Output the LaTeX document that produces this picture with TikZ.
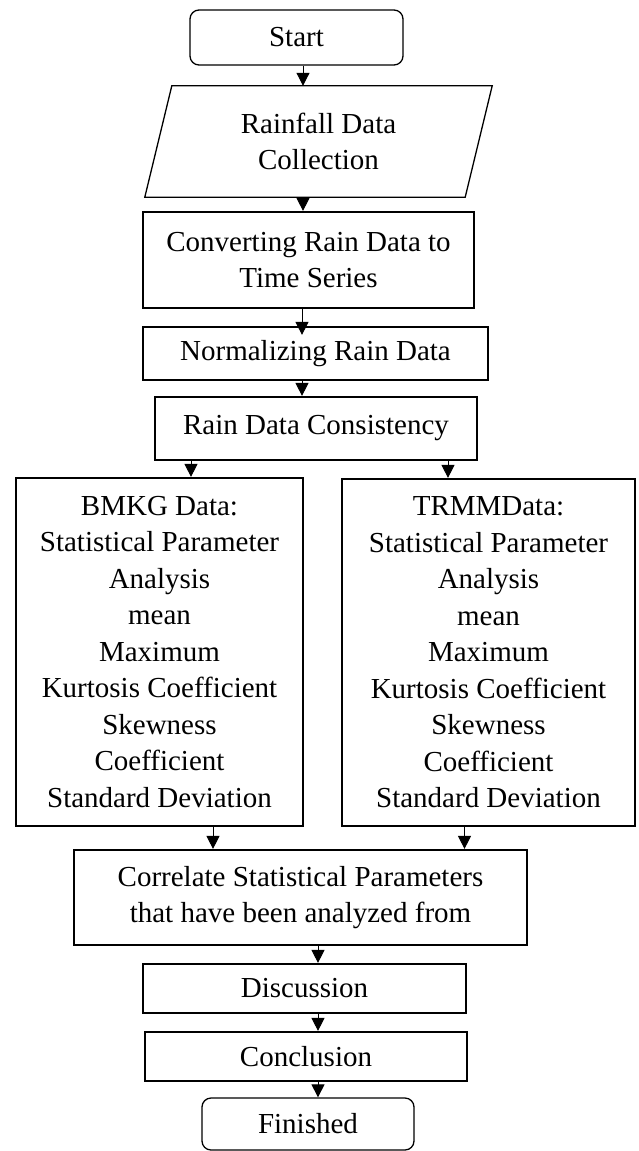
\documentclass[tikz,border=0pt]{standalone}
\usepackage{fontspec}
\setmainfont{Liberation Serif}
\usetikzlibrary{arrows.meta,calc}
\begin{document}
\begin{tikzpicture}[x=1pt,y=-1pt,
  txt/.style={font=\fontsize{29pt}{36.5pt}\selectfont, align=center, inner sep=0pt},
  boxn/.style={txt, draw, line width=2.2pt},
  term/.style={txt, draw, line width=1.3pt, rounded corners=9pt},
  arr/.style={line width=1pt, -{Triangle[width=13pt,length=13pt]}}]
\useasboundingbox (0,0) rectangle (638,1151);
\fill[white] (0,0) rectangle (638,1151);
% nodes
\node[term, minimum width=213pt, minimum height=55pt] (start) at (296.5,37.5) {Start};
\node[txt, minimum width=347pt, minimum height=111pt] (data) at (318.5,141.5) {Rainfall Data\\Collection};
\draw[line width=1.3pt] ($(data.north west)+(27,0)$) -- (data.north east) -- ($(data.south east)+(-27,0)$) -- (data.south west) -- cycle;
\node[boxn, minimum width=331pt, minimum height=96pt] (conv) at (308.5,260) {Converting Rain Data to\\Time Series};
\node[boxn, minimum width=345pt, minimum height=53pt] (norm) at (315.5,353.5) {Normalizing Rain Data};
\node[boxn, minimum width=322pt, minimum height=63pt] (cons) at (316,428.5) {Rain Data Consistency};
\node[boxn, minimum width=287pt, minimum height=348pt] (bmkg) at (159.5,652) {BMKG Data:\\Statistical Parameter\\Analysis\\mean\\Maximum\\Kurtosis Coefficient\\Skewness\\Coefficient\\Standard Deviation};
\node[boxn, minimum width=293pt, minimum height=347pt] (trmm) at (488.5,652.5) {TRMMData:\\Statistical Parameter\\Analysis\\mean\\Maximum\\Kurtosis Coefficient\\Skewness\\Coefficient\\Standard Deviation};
\node[boxn, minimum width=453pt, minimum height=95pt] (corr) at (300.5,897.5) {Correlate Statistical Parameters\\that have been analyzed from};
\node[boxn, minimum width=323pt, minimum height=49pt] (disc) at (304.5,988.5) {Discussion};
\node[boxn, minimum width=322pt, minimum height=49pt] (conc) at (306,1056.5) {Conclusion};
\node[term, minimum width=212pt, minimum height=52pt] (fin) at (308,1124) {Finished};
% arrow columns
\coordinate (c1) at (303,0);
\coordinate (c2) at (302,0);
\coordinate (cl) at (191,0);
\coordinate (cr) at (448,0);
\coordinate (dl) at (213,0);
\coordinate (dr) at (464.5,0);
\coordinate (c3) at (318,0);
% connectors
\draw[arr] (start.south -| c1) -- (data.north -| c1);
\draw[arr] (data.south -| c1) -- (conv.north -| c1);
\draw[arr, shorten >=-9pt] (conv.south -| c2) -- (norm.north -| c2);
\draw[arr] (norm.south -| c2) -- (cons.north -| c2);
\draw[arr] (cons.south -| cl) -- (bmkg.north -| cl);
\draw[arr] (cons.south -| cr) -- (trmm.north -| cr);
\draw[arr] (bmkg.south -| dl) -- (corr.north -| dl);
\draw[arr] (trmm.south -| dr) -- (corr.north -| dr);
\draw[arr] (corr.south -| c3) -- (disc.north -| c3);
\draw[arr] (disc.south -| c3) -- (conc.north -| c3);
\draw[arr] (conc.south -| c3) -- (fin.north -| c3);
\end{tikzpicture}
\end{document}
